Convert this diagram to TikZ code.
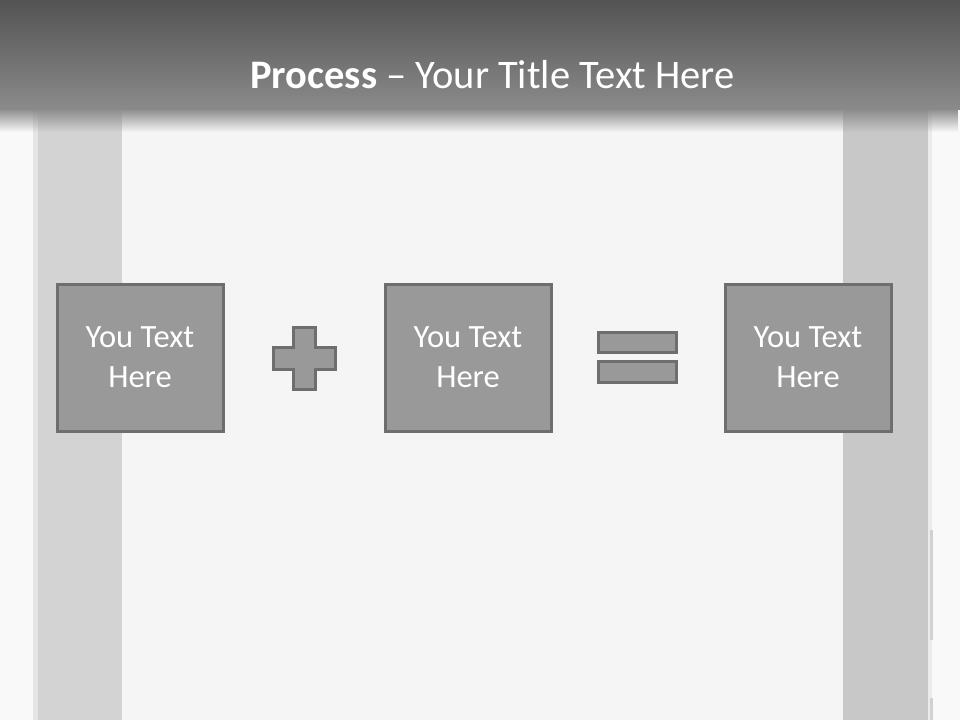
\documentclass[tikz,border=0pt]{standalone}
\usepackage{fontspec}
\setmainfont{Carlito}
\usetikzlibrary{fadings}
\definecolor{bgc}{HTML}{F5F5F5}
\definecolor{edgec}{HTML}{F9F9F9}
\definecolor{stripL}{HTML}{D3D3D3}
\definecolor{stripR}{HTML}{C8C8C8}
\definecolor{hdrtop}{HTML}{545454}
\definecolor{hdrbot}{HTML}{8A8A8A}
\definecolor{boxfill}{HTML}{999999}
\definecolor{boxline}{HTML}{6E6E6E}
\tikzset{
  tbox/.style={draw=boxline, line width=3pt, fill=boxfill, minimum width=166pt, minimum height=147pt, inner sep=0pt, text=white, align=center, font=\fontsize{32.5}{40}\selectfont},
  sym/.style={draw=boxline, line width=3pt, fill=boxfill}
}
\begin{document}
\begin{tikzpicture}[x=1pt,y=-1pt]
\useasboundingbox (0,0) rectangle (960,720);
% background
\fill[edgec] (0,0) rectangle (960,720);
\fill[bgc] (122,0) rectangle (843,720);
\fill[black!10] (33,0) rectangle (38,720);
\fill[stripL] (38,0) rectangle (122,720);
\fill[stripR] (843,0) rectangle (928,720);
\fill[black!8] (928,0) rectangle (932,720);
\fill[black!18] (930,530) rectangle (933,640);
\fill[black!18] (930,698) rectangle (933,720);
% header
\shade[top color=hdrtop, bottom color=hdrbot] (0,0) rectangle (960,109);
\fill[hdrbot, path fading=south] (0,108.5) rectangle (960,132);
\node[anchor=base, text=white, font=\fontsize{40.5}{48}\selectfont, inner sep=0pt] (title) at (492.5,88) {\textbf{Process} – Your Title Text Here};
% boxes
\node[tbox] (b1) at (140,357.5) {You Text\\Here};
\node[tbox] (b2) at (468,357.5) {You Text\\Here};
\node[tbox] (b3) at (808,357.5) {You Text\\Here};
% plus
\draw[sym] (293,327) -- (315,327) -- (315,347) -- (335,347) -- (335,369) -- (315,369) -- (315,389) -- (293,389) -- (293,369) -- (273,369) -- (273,347) -- (293,347) -- cycle;
% equals
\draw[sym] (598,332) rectangle (676,352);
\draw[sym] (598,361) rectangle (676,382);
\end{tikzpicture}
\end{document}
